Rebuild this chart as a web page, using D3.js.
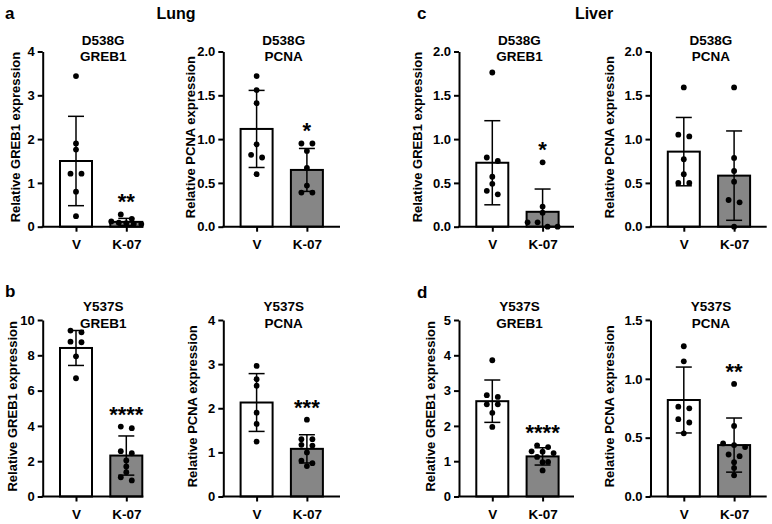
<!DOCTYPE html>
<html>
<head>
<meta charset="utf-8">
<script src="https://cdn.jsdelivr.net/npm/d3@7"></script>
<style>
  html, body { margin: 0; padding: 0; background: #fff; }
  svg { display: block; }
  text { font-family: "Liberation Sans", Arial, Helvetica, sans-serif; font-weight: bold; fill: #000; }
</style>
</head>
<body>
<div id="chart"></div>
<script>
// ---------------- DATA ----------------
const categories = ["V", "K-07"];
const sectionLetters = ["a", "b", "c", "d"];
const tissues = ["Lung", "Liver"];
const titleLine1 = ["D538G", "D538G", "D538G", "D538G", "Y537S", "Y537S", "Y537S", "Y537S"];
const titleLine2 = ["GREB1", "PCNA", "GREB1", "PCNA", "GREB1", "PCNA", "GREB1", "PCNA"];
const yAxisLabels = [
  "Relative GREB1 expression", "Relative PCNA expression",
  "Relative GREB1 expression", "Relative PCNA expression",
  "Relative GREB1 expression", "Relative PCNA expression",
  "Relative GREB1 expression", "Relative PCNA expression"
];
const yMaxValues = [4, 2, 2, 2, 10, 4, 5, 1.5];
const yTickValues = [
  [0, 1, 2, 3, 4],
  [0, 0.5, 1, 1.5, 2],
  [0, 0.5, 1, 1.5, 2],
  [0, 0.5, 1, 1.5, 2],
  [0, 2, 4, 6, 8, 10],
  [0, 1, 2, 3, 4],
  [0, 1, 2, 3, 4, 5],
  [0, 0.5, 1, 1.5]
];
const yTickFormats = ["d", ".1f", ".1f", ".1f", "d", "d", "d", ".1f"];
const meanV = [1.50, 1.116, 0.73, 0.857, 8.415, 2.13, 2.70, 0.82];
const meanK = [0.11, 0.648, 0.17, 0.583, 2.32, 1.08, 1.136, 0.437];
const sdV = [1.02, 0.44, 0.48, 0.39, 0.99, 0.655, 0.60, 0.28];
const sdK = [0.08, 0.245, 0.26, 0.51, 1.11, 0.32, 0.245, 0.23];
const pointsV = [
  [3.44, 1.90, 1.76, 1.21, 1.21, 0.80, 0.24],
  [1.72, 1.56, 1.41, 0.94, 0.82, 0.79, 0.60],
  [1.76, 0.79, 0.75, 0.57, 0.49, 0.41, 0.37],
  [1.59, 1.05, 1.03, 0.77, 0.60, 0.50, 0.50],
  [9.40, 9.30, 8.77, 8.74, 7.94, 6.70],
  [2.96, 2.66, 2.51, 1.90, 1.645, 1.245],
  [3.86, 2.87, 2.82, 2.61, 2.61, 2.37, 1.97],
  [1.277, 1.149, 0.763, 0.749, 0.657, 0.629, 0.537]
];
const pointsK = [
  [0.28, 0.18, 0.12, 0.09, 0.08, 0.07, 0.06],
  [0.95, 0.95, 0.865, 0.67, 0.47, 0.39, 0.39],
  [0.735, 0.23, 0.16, 0.05, 0.05, 0.0, 0.0],
  [1.59, 0.785, 0.636, 0.514, 0.305, 0.278, 0.0],
  [3.96, 3.87, 2.57, 2.45, 2.04, 1.70, 1.38, 1.09, 0.91],
  [1.74, 1.30, 1.30, 1.17, 1.155, 1.0, 0.81, 0.755, 0.69],
  [1.45, 1.40, 1.28, 1.27, 1.23, 1.12, 0.98, 0.97, 0.74],
  [0.957, 0.60, 0.451, 0.437, 0.42, 0.357, 0.343, 0.291, 0.243, 0.18]
];
const significance = ["**", "*", "*", "", "****", "***", "****", "**"];

// ---------------- LAYOUT ----------------
const W = 772, H = 524;
const colAxisX = [42.7, 223.3, 459, 650.5];
const colAxisEnd = [143.3, 340, 574, 766.7];
const rowTop = [51.5, 320];
const rowBottom = [226.7, 496.5];
const labelDist = [23, 28, 37, 37, 26, 26, 24, 37];
const titleDy1 = [-6.5, -9];
const titleDy2 = [9.5, 8];
const barColors = ["#ffffff", "#868686"];
const barW = 32;
const dotR = 2.9;

const svg = d3.select("#chart").append("svg")
  .attr("width", W).attr("height", H);

// Section letters and tissue headings
const letterPos = [[5, 19], [5, 297], [417, 19], [417, 298]];
sectionLetters.forEach((l, i) => {
  svg.append("text").attr("x", letterPos[i][0]).attr("y", letterPos[i][1])
    .attr("font-size", 17).text(l);
});
const tissuePos = [[176, 19], [594, 19]];
tissues.forEach((t, i) => {
  svg.append("text").attr("x", tissuePos[i][0]).attr("y", tissuePos[i][1])
    .attr("font-size", 16).attr("text-anchor", "middle").text(t);
});

function swarm(values, y, cx) {
  const sorted = values.map(v => ({ v, py: y(v) })).sort((a, b) => a.py - b.py);
  const groups = [];
  let cur = null;
  sorted.forEach(p => {
    if (cur && Math.abs(p.py - cur[0].py) <= 5) cur.push(p);
    else { cur = [p]; groups.push(cur); }
  });
  const out = [];
  groups.forEach(g => {
    const n = g.length;
    const s = n > 1 ? Math.min(11, 30 / (n - 1)) : 0;
    g.forEach((p, i) => out.push({ x: cx + (i - (n - 1) / 2) * s, y: p.py }));
  });
  return out;
}

for (let p = 0; p < 8; p++) {
  const row = Math.floor(p / 4), col = p % 4;
  const x0 = colAxisX[col], x1 = colAxisEnd[col];
  const top = rowTop[row], bottom = rowBottom[row];
  const g = svg.append("g");

  const y = d3.scaleLinear().domain([0, yMaxValues[p]]).range([bottom, top]);
  const x = d3.scalePoint().domain(categories).range([x0 + 33.3, x0 + 83.6]);

  const means = [meanV[p], meanK[p]];
  const sds = [sdV[p], sdK[p]];
  const pts = [pointsV[p], pointsK[p]];
  categories.forEach((c, i) => {
    const cx = x(c);
    g.append("rect")
      .attr("x", cx - barW / 2).attr("y", y(means[i]))
      .attr("width", barW).attr("height", y(0) - y(means[i]))
      .attr("fill", barColors[i]).attr("stroke", "#000").attr("stroke-width", 2);
    const hi = means[i] + sds[i];
    const lo = Math.max(0, means[i] - sds[i]);
    g.append("line").attr("x1", cx).attr("x2", cx)
      .attr("y1", y(hi)).attr("y2", y(lo))
      .attr("stroke", "#000").attr("stroke-width", 1.5);
    g.append("line").attr("x1", cx - 8).attr("x2", cx + 8)
      .attr("y1", y(hi)).attr("y2", y(hi))
      .attr("stroke", "#000").attr("stroke-width", 1.5);
    if (lo > 0) {
      g.append("line").attr("x1", cx - 8).attr("x2", cx + 8)
        .attr("y1", y(lo)).attr("y2", y(lo))
        .attr("stroke", "#000").attr("stroke-width", 1.5);
    }
    swarm(pts[i], y, cx).forEach(d => {
      g.append("circle").attr("cx", d.x).attr("cy", d.y).attr("r", dotR).attr("fill", "#000");
    });
    if (i === 1 && significance[p]) {
      const topVal = Math.max(d3.max(pts[i]), hi);
      g.append("text").attr("x", cx).attr("y", y(topVal) - 16 + 11)
        .attr("font-size", 22).attr("text-anchor", "middle").text(significance[p]);
    }
  });

  // y axis
  const yAxis = d3.axisLeft(y).tickValues(yTickValues[p])
    .tickFormat(d3.format(yTickFormats[p])).tickSize(5).tickSizeOuter(0).tickPadding(3);
  const ya = g.append("g").attr("transform", `translate(${x0},0)`).call(yAxis);
  ya.select(".domain").attr("stroke-width", 2);
  ya.selectAll(".tick line").attr("stroke-width", 2);
  ya.selectAll(".tick text").attr("font-size", 13).attr("font-family", null);

  // x axis
  g.append("line").attr("x1", x0 - 1).attr("x2", x1).attr("y1", y(0)).attr("y2", y(0))
    .attr("stroke", "#000").attr("stroke-width", 2);
  const xAxis = d3.axisBottom(x).tickSize(5).tickPadding(5);
  const xa = g.append("g").attr("transform", `translate(0,${y(0)})`).call(xAxis);
  xa.select(".domain").remove();
  xa.selectAll(".tick line").attr("stroke-width", 2);
  xa.selectAll(".tick text").attr("font-size", 13.5).attr("font-family", null).attr("dy", "0.9em");

  // y label
  g.append("text")
    .attr("transform", `translate(${x0 - labelDist[p]},${(top + bottom) / 2 - 2}) rotate(-90)`)
    .attr("text-anchor", "middle").attr("font-size", 13).text(yAxisLabels[p]);

  // titles
  const tx = (x(categories[0]) + x(categories[1])) / 2 + 2;
  g.append("text").attr("x", tx).attr("y", top + titleDy1[row])
    .attr("text-anchor", "middle").attr("font-size", 13.5).text(titleLine1[p]);
  g.append("text").attr("x", tx).attr("y", top + titleDy2[row])
    .attr("text-anchor", "middle").attr("font-size", 13.5).text(titleLine2[p]);
}
</script>
</body>
</html>
